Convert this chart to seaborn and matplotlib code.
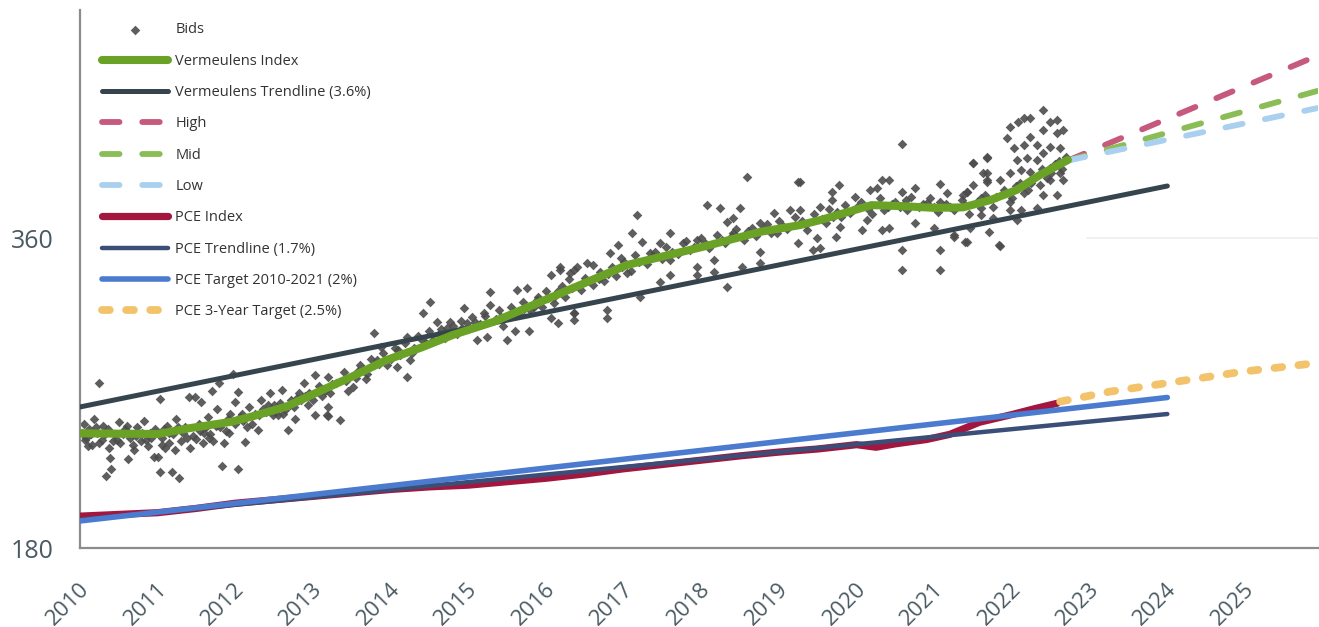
import numpy as np
import pandas as pd
import seaborn as sns
import matplotlib.pyplot as plt
from matplotlib.transforms import ScaledTranslation

# ---- data ----
years = list(range(2010, 2026))

verm_x = [2010, 2011, 2011.4, 2011.95, 2012.2, 2012.65, 2013.07, 2013.5, 2013.95, 2014.4,
          2014.8, 2015.33, 2015.88, 2016.44, 2017.04, 2018.03, 2018.76, 2019.27, 2019.53,
          2020.19, 2020.6, 2021.0, 2021.37, 2021.72, 2022.06, 2022.36, 2022.72]
verm_y = [246.6, 246.2, 249.5, 253.3, 256.2, 262, 270.7, 279.5, 289.2, 296.5,
          303.7, 311.4, 322, 332.7, 344.3, 355, 363.6, 367.5, 370.4,
          379.1, 378.5, 377.5, 377.8, 382, 387.9, 396.6, 405.3]

verm_trend_x = [2010, 2024]
verm_trend_y = [261.9, 390.2]

proj_x = [2022.72, 2025.94]
high_y = [405, 466]
mid_y = [405, 445.5]
low_y = [405, 435.5]

pce_x = [2010, 2010.5, 2011, 2011.5, 2012, 2012.5, 2013, 2013.5, 2014, 2014.5, 2015,
         2015.5, 2016, 2016.5, 2017, 2017.5, 2018, 2018.5, 2019, 2019.5, 2020, 2020.25,
         2020.5, 2020.9, 2021.2, 2021.58, 2022.0, 2022.3, 2022.58]
pce_y = [198.5, 199.5, 200.5, 203, 206, 208, 210, 212, 214, 215.5, 216.5,
         218.5, 220.5, 223, 226, 228.5, 231, 233.5, 235.7, 237.5, 240, 238.5,
         240.5, 243, 246, 253, 257.5, 261, 264]

pce_trend_x = [2010, 2024]
pce_trend_y = [196.3, 257.8]

pce_target_x = [2010, 2024]
pce_target_y = [195.7, 267.4]

pce_3yr_x = [2022.62, 2023.26, 2024.12, 2024.97, 2025.94]
pce_3yr_y = [265, 270.8, 276.6, 282.4, 287.5]

bids_x = [
    2010.05, 2010.08, 2010.12, 2010.15, 2010.18, 2010.22, 2010.25, 2010.28, 2010.3, 2010.34,
    2010.37, 2010.4, 2010.39, 2010.45, 2010.5, 2010.52, 2010.58, 2010.62, 2010.65, 2010.7,
    2010.74, 2010.78, 2010.82, 2010.87, 2010.9, 2010.95, 2011.01, 2011.03, 2011.03, 2011.06,
    2011.1, 2011.12, 2011.18, 2011.2, 2011.24, 2011.27, 2011.3, 2011.35, 2011.4, 2011.42,
    2011.48, 2011.5, 2011.53, 2011.56, 2011.6, 2011.65, 2011.7, 2011.71, 2011.75, 2011.77,
    2011.79, 2011.83, 2011.85, 2011.9, 2011.97, 2011.99, 2012.04, 2012.04, 2012.08, 2012.13,
    2012.18, 2012.22, 2012.29, 2012.33, 2012.4, 2012.45, 2012.5, 2012.55, 2012.6, 2012.68,
    2012.72, 2012.77, 2012.82, 2012.88, 2012.93, 2013.03, 2013.03, 2013.08, 2013.12, 2013.19,
    2013.19, 2013.19,
    2010.02, 2010.1, 2010.2, 2010.32, 2010.42, 2010.55, 2010.68, 2010.8, 2010.92, 2011.08,
    2011.15, 2011.22, 2011.32, 2011.45, 2011.58, 2011.62, 2011.68, 2011.88, 2011.93, 2012.0,
    2012.1, 2012.25, 2012.36, 2012.48, 2012.58, 2012.64, 2012.75, 2012.85, 2012.95, 2013.0,
    2013.15, 2013.25,
    2013.18, 2013.35, 2013.52, 2013.65, 2013.78, 2013.87, 2014.08, 2014.21, 2014.25, 2014.21,
    2014.42, 2014.51, 2014.6, 2014.73, 2014.94, 2014.98, 2015.11, 2015.2, 2015.28, 2015.28,
    2015.24, 2015.5, 2015.63, 2015.76, 2015.6, 2015.78, 2015.84, 2016.06, 2016.18, 2016.1,
    2016.06, 2016.16, 2016.36, 2016.31, 2016.4,
    2018.59, 2019.24, 2017.17, 2018.07, 2018.24, 2018.5, 2017.11, 2017.6, 2016.93, 2017.24,
    2017.47, 2017.94, 2018.33, 2018.41, 2018.76, 2018.93, 2019.14, 2019.27, 2019.25, 2018.76,
    2018.76, 2018.52, 2018.33, 2018.16, 2017.94, 2017.94, 2017.6, 2017.47, 2017.21, 2016.78,
    2016.78, 2016.36, 2016.36, 2016.53, 2016.61, 2016.36, 2016.18, 2016.83, 2016.96, 2017.34,
    2017.04, 2017.6, 2017.77, 2018.16, 2018.41, 2018.97, 2019.44,
    2020.58, 2019.77, 2019.68, 2019.68, 2020.32, 2020.42, 2019.98, 2020.17, 2020.26, 2020.58,
    2020.75, 2021.07, 2021.16, 2021.5, 2021.68, 2021.68, 2021.68, 2021.5, 2021.42, 2021.6,
    2019.27, 2019.53, 2019.36, 2019.49, 2019.74, 2019.53, 2020.07, 2020.32, 2020.42, 2020.58,
    2020.58, 2020.75, 2020.99, 2021.07, 2021.07, 2021.25, 2021.42, 2021.83, 2020.56, 2020.35,
    2019.91, 2020.9, 2021.07, 2020.64, 2020.13, 2019.79, 2019.7,
    2022.4, 2021.98, 2022.08, 2022.15, 2022.23, 2022.49, 2022.58, 2021.93, 2022.23, 2022.4,
    2022.58, 2022.66, 2022.02, 2022.15, 2022.32, 2022.49, 2022.62, 2021.68, 2022.06, 2022.19,
    2022.32, 2022.4, 2021.5, 2021.63, 2021.68, 2021.98, 2022.11, 2022.23, 2022.49, 2022.62,
    2021.85, 2022.66, 2022.49, 2022.36, 2021.42, 2021.37, 2021.98, 2022.15, 2022.4, 2022.58,
    2021.6, 2021.98, 2022.11, 2022.32, 2021.76, 2022.06, 2021.25, 2021.46, 2021.71, 2021.4,
    2021.85,
    2013.3, 2013.4, 2013.45, 2013.55, 2013.6, 2013.7, 2013.75, 2013.85, 2013.9, 2014.0,
    2014.05, 2014.12, 2014.18, 2014.3, 2014.35, 2014.45, 2014.5, 2014.55, 2014.65, 2014.7,
    2014.8, 2014.85, 2014.9, 2015.0, 2015.05, 2015.15, 2015.35, 2015.4, 2015.45, 2015.55,
    2015.65, 2015.7, 2015.8, 2015.9, 2015.95, 2016.0, 2016.1, 2016.2, 2016.25, 2016.3,
    2016.45, 2016.5, 2016.6, 2016.7, 2016.75, 2016.85, 2016.9, 2017.0, 2017.1, 2017.15,
    2017.3, 2017.4, 2017.5, 2017.55, 2017.7, 2017.8, 2017.85, 2018.0, 2018.1, 2018.2,
    2018.3, 2018.45, 2018.55, 2018.65, 2018.7, 2018.85, 2018.9, 2019.0, 2019.1, 2019.2,
    2019.35, 2019.45, 2019.6, 2019.65, 2019.8, 2019.85, 2019.95, 2020.05, 2020.2, 2020.3,
    2020.4, 2020.5, 2020.65, 2020.7, 2020.8, 2020.95, 2021.05, 2021.15, 2021.25, 2021.35,
    2021.45, 2021.55, 2021.65, 2021.75, 2021.9, 2022.0, 2022.1, 2022.2, 2022.28, 2022.38,
    2022.45, 2022.55, 2022.65, 2022.7,
    2010.06, 2010.14, 2010.24, 2010.36, 2010.47, 2010.6, 2010.72, 2010.85, 2010.97, 2011.05,
    2011.14, 2011.26, 2011.38, 2011.55, 2011.66, 2011.8, 2011.92, 2012.06, 2012.15, 2012.3,
    2012.42, 2012.52, 2012.62, 2012.7, 2012.8, 2012.9, 2013.1, 2013.22,
    2013.42, 2013.58, 2013.68, 2013.82, 2013.95, 2014.1, 2014.27, 2014.4, 2014.62, 2014.76,
    2014.92, 2015.08, 2015.22, 2015.42, 2015.58, 2015.72, 2015.88, 2016.03, 2016.15, 2016.33,
    2016.55, 2016.68, 2016.8, 2016.98, 2017.2, 2017.36, 2017.62, 2017.9, 2018.05, 2018.26,
    2018.4, 2018.6, 2018.8, 2019.05, 2019.3, 2019.55, 2019.75, 2020.0, 2020.15, 2020.45,
    2020.6, 2020.85, 2021.0, 2021.2, 2021.4, 2021.6, 2021.8, 2022.05, 2022.25, 2022.5,
    2022.6,
]
bids_y = [
    252, 244, 249, 240, 255, 247, 276, 243, 251, 221.8,
    238, 225.7, 232, 246, 253, 241, 249, 231.7, 244, 237,
    250, 242, 254, 239, 247, 233, 232.7, 224.3, 266.3, 244,
    237.9, 251, 224.3, 246, 255, 220.5, 242, 250, 267.8, 238,
    267.5, 243.3, 252, 265, 247, 256, 271.2, 242.1, 251, 260.5,
    275.6, 227.6, 240.8, 255, 281, 265, 270.6, 225.7, 258, 241.7,
    262, 252, 248.5, 266, 259, 270, 263, 257, 272, 248.5,
    266, 254.7, 270, 276, 263, 280.4, 257.2, 274, 268, 279.4,
    256.6, 262,
    247, 239, 250, 246, 242, 246, 240, 247, 244, 249,
    241, 237, 247, 245, 241, 250, 246, 248, 258, 252,
    254, 258, 261, 257, 264, 260, 262, 266, 270, 266,
    271, 275,
    257.2, 254.3, 273.7, 283.3, 304.7, 296.9, 285.3, 279.5, 289.2, 302.7,
    316.3, 323, 311.4, 307.6, 319.2, 310.5, 300.8, 316.3, 328.8, 321.1,
    302.7, 300.8, 329.8, 330.8, 305.8, 305.8, 320.1, 338.5, 343.3, 325.9,
    313.4, 310.5, 316.3, 339.5, 343.3,
    395.6, 392.7, 373.3, 379.1, 377.2, 377.2, 362.7, 362.7, 355.9, 357.8,
    356.9, 358.8, 369.5, 371.4, 368.5, 374.3, 376.2, 376.2, 356.9, 352,
    345.3, 343.3, 331.7, 340.4, 343.3, 338.5, 338.5, 334.6, 325.9, 318.2,
    313.4, 316.3, 312.4, 345.3, 344.3, 341.4, 341.4, 351.1, 348.2, 351.1,
    339.5, 347.2, 356.9, 347.2, 362.7, 362.7, 353,
    414.6, 390.8, 386.9, 382, 393.7, 393.7, 384, 387.9, 388.8, 386.9,
    388.8, 391.3, 385.9, 403.4, 406.6, 397.6, 392.7, 390.8, 386.9, 373.3,
    392.7, 378.2, 364.6, 359.8, 360.7, 354, 364.6, 364.6, 365.6, 353,
    341.4, 368.5, 365.6, 353, 341.4, 360.7, 357.9, 355.9, 378.2, 376.2,
    374.3, 380.1, 381.1, 382, 370.4, 366.6, 372.4,
    434.3, 424.6, 427.5, 429.5, 429.8, 427.5, 428.5, 417.9, 418.9, 422.7,
    420.8, 422.7, 412, 414, 414, 413, 412, 407.2, 405.3, 406.3,
    405.3, 409.2, 403.4, 397.6, 393.7, 397.6, 399.5, 398.5, 400.5, 397.6,
    393.7, 393.7, 393.7, 390.8, 386.9, 385, 381.1, 386, 385, 385,
    377.2, 376.2, 376.2, 377.2, 371.4, 370.4, 361.7, 365.6, 363.6, 357.8,
    355.5,
    276, 282, 271, 279, 286, 281, 290, 287, 293, 290,
    296, 292, 299, 296, 303, 299, 306, 301, 307, 302,
    309, 304, 312, 307, 314, 310, 313, 318, 309, 320,
    316, 323, 318, 326, 320, 329, 322, 332, 326, 336,
    330, 337, 333, 340, 335, 343, 338, 346, 341, 350,
    345, 352, 348, 355, 351, 358, 353, 360, 354, 362,
    357, 365, 359, 366, 361, 368, 363, 370, 365, 372,
    368, 374, 369, 377, 372, 379, 376, 381, 374, 383,
    378, 381, 376, 384, 378, 383, 375, 380, 376, 382,
    374, 381, 385, 378, 388, 383, 392, 388, 395, 400,
    395, 403, 400, 407,
    243, 246, 241, 249, 243, 251, 245, 243, 249, 240,
    247, 250, 244, 248, 244, 250, 247, 256, 250, 257,
    263, 260, 258, 263, 267, 268, 272, 270,
    277, 283, 278, 289, 286, 295, 293, 301, 304, 311,
    308, 311, 315, 314, 317, 319, 324, 325, 329, 331,
    335, 336, 339, 343, 346, 349, 352, 355, 357, 359,
    361, 364, 365, 367, 370, 371, 375, 378, 377, 380,
    379, 380, 378, 378, 379, 383, 384, 390, 392, 398,
    405,
]

sns.set_theme(style="white")
plt.rcParams['font.family'] = ['Open Sans', 'DejaVu Sans']

fig = plt.figure(figsize=(13.19, 6.27), dpi=100)
ax = fig.add_axes([80 / 1319, 1 - 548 / 627, 1238 / 1319, 538 / 627])

# faint gridline visible only past the pasted scatter image
ax.hlines(360, 2022.95, 2025.94, color='#eeeeee', lw=1.2, zorder=0)

sns.scatterplot(x=bids_x, y=bids_y, marker='D', s=24, color='#4c4c4c', linewidth=0,
                alpha=0.9, label='Bids', ax=ax, zorder=2)

def draw(x, y, color, lw, label, dashes=None, z=3):
    sns.lineplot(x=x, y=y, color=color, linewidth=lw, label=label, ax=ax, zorder=z)
    ln = ax.lines[-1]
    ln.set_solid_capstyle('round')
    if dashes is not None:
        ln.set_dashes(dashes)
        ln.set_dash_capstyle('round')
    return ln

draw(verm_trend_x, verm_trend_y, '#36454d', 3.6, 'Vermeulens Trendline (3.6%)')
draw(verm_x, verm_y, '#6aa225', 5.8, 'Vermeulens Index', z=4)
draw(proj_x, high_y, '#c65a7c', 4.2, 'High', dashes=(3.0, 3.9))
draw(proj_x, mid_y, '#8bbd57', 4.2, 'Mid', dashes=(3.0, 3.9))
draw(proj_x, low_y, '#a9d0ee', 4.2, 'Low', dashes=(3.0, 3.9))
draw(pce_x, pce_y, '#a3173f', 5.2, 'PCE Index')
draw(pce_trend_x, pce_trend_y, '#3a4e78', 3.2, 'PCE Trendline (1.7%)')
draw(pce_target_x, pce_target_y, '#4b7bcf', 4.0, 'PCE Target 2010-2021 (2%)')
draw(pce_3yr_x, pce_3yr_y, '#f2c36b', 5.6, 'PCE 3-Year Target (2.5%)', dashes=(1.0, 2.1))

order = ['Bids', 'Vermeulens Index', 'Vermeulens Trendline (3.6%)', 'High', 'Mid', 'Low',
         'PCE Index', 'PCE Trendline (1.7%)', 'PCE Target 2010-2021 (2%)',
         'PCE 3-Year Target (2.5%)']
handles, labels = ax.get_legend_handles_labels()
lookup = dict(zip(labels, handles))
leg = ax.legend([lookup[l] for l in order], order, loc='upper left',
                bbox_to_anchor=(0.0145, 0.985), borderaxespad=0, borderpad=0.3,
                frameon=False, fontsize=10.5, handlelength=4.5, handletextpad=0.5,
                labelspacing=1.12, scatterpoints=1)
for t in leg.get_texts():
    t.set_color('#333333')

ax.set_xlim(2010, 2025.94)
ax.set_ylim(180, 492.4)
ax.set_xticks(years)
ax.set_xticklabels([])
# year labels, rotated and tucked under each tick
lab_tr = ax.get_xaxis_transform() + ScaledTranslation(6 / 100, -38 / 100, fig.dpi_scale_trans)
for yr in years:
    ax.text(yr, 0, str(yr), transform=lab_tr, rotation=45, ha='right', va='center',
            rotation_mode='anchor', fontsize=16, color='#4a5a63', clip_on=False)

ax.set_yticks([180, 360])
ax.set_yticklabels(['180', '360'], fontsize=18, color='#4a5a63')
ax.tick_params(axis='x', direction='in', length=6.5, width=1.1, color='#8a8a8a')
ax.tick_params(axis='y', direction='in', length=4, width=1.0, color='#bbbbbb', pad=19)
ax.set_xlabel('')
ax.set_ylabel('')

sns.despine(ax=ax)
for side in ['left', 'bottom']:
    ax.spines[side].set_color('#8c8c8c')
    ax.spines[side].set_linewidth(1.6)

fig.savefig('out.png', dpi=100)
